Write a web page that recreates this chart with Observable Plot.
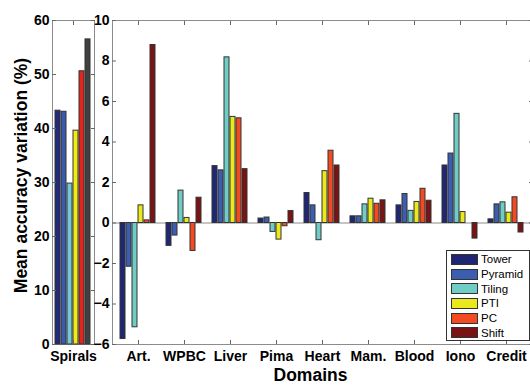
<!DOCTYPE html>
<html><head><meta charset="utf-8">
<script src="https://cdn.jsdelivr.net/npm/d3@7"></script>
<script src="https://cdn.jsdelivr.net/npm/@observablehq/plot@0.6"></script>
<style>
html,body{margin:0;padding:0;background:#fff;}
#chart{position:relative;width:530px;height:385px;overflow:hidden;font-family:"Liberation Sans",Arial,sans-serif;}
#chart svg{position:absolute;left:0;top:0;}
.legend{position:absolute;left:446px;top:250px;width:84px;height:91px;border:1px solid #333;background:#fff;box-sizing:border-box;padding-top:1px;padding-left:4px;}
.legend .row{height:14.7px;display:flex;align-items:center;font-size:11.5px;color:#000;white-space:nowrap;}
.legend .sw{width:27px;height:11px;box-sizing:border-box;border:1px solid #333;margin-right:3px;flex:none;}
</style>
</head><body>
<div id="chart"></div>
<script>
// ---- data ----
const series = ["Tower", "Pyramid", "Tiling", "PTI", "PC", "Shift"];
const domains = ["Art.", "WPBC", "Liver", "Pima", "Heart", "Mam.", "Blood", "Iono", "Credit"];
const spirals = [43.3, 43.1, 29.8, 39.6, 50.6, 56.5];
const tower   = [-5.73, -1.13, 2.81, 0.22, 1.48, 0.33, 0.87, 2.84, 0.18];
const pyramid = [-2.16, -0.62, 2.60, 0.27, 0.87, 0.33, 1.43, 3.43, 0.92];
const tiling  = [-5.15, 1.60, 8.18, -0.44, -0.85, 0.92, 0.60, 5.39, 1.02];
const pti     = [0.87, 0.25, 5.24, -0.82, 2.56, 1.20, 1.04, 0.54, 0.51];
const pc      = [0.13, -1.38, 5.17, -0.16, 3.57, 0.95, 1.69, 0.00, 1.27];
const shift   = [8.79, 1.25, 2.66, 0.59, 2.84, 1.12, 1.10, -0.77, -0.47];
const leftTicks = [0, 10, 20, 30, 40, 50, 60];
const rightTicks = [-6, -4, -2, 0, 2, 4, 6, 8, 10];
const yTitle = "Mean accuracy variation (%)";
const xTitle = "Domains";
const colors = ["#1f2775", "#3c5eb0", "#6fcdc6", "#e9e91b", "#f24b24", "#7a1414"];
const spiralsColors = ["#232a7a", "#3b5aab", "#75c8dc", "#f0ec14", "#e0251c", "#404040"];

const values = [tower, pyramid, tiling, pti, pc, shift];
const spiralsData = series.map((s, i) => ({domain: "Spirals", series: s, value: spirals[i]}));
const domainData = domains.flatMap((d, j) => series.map((s, i) => ({domain: d, series: s, value: values[i][j]})));

const FONT = '"Liberation Sans", Arial, sans-serif';
const style = {background: "transparent", fontFamily: FONT, fontSize: "14px", fontWeight: "bold", color: "#000", overflow: "visible", maxWidth: "none"};
const frameColor = "#8c8c8c", tickColor = "#666";

const W = 533, H = 385, MT = 20, MB = 41;

const left = Plot.plot({
  width: W, height: H, marginLeft: 52, marginRight: W - 94, marginTop: MT, marginBottom: MB,
  style,
  fx: {domain: ["Spirals"], padding: 0, axis: null},
  x: {domain: series, paddingInner: 0.12, paddingOuter: 0.56, axis: null},
  y: {domain: [0, 60], axis: null},
  color: {domain: series, range: spiralsColors},
  marks: [
    Plot.frame({stroke: frameColor}),
    Plot.barY(spiralsData, {fx: "domain", x: "series", y: "value", fill: "series", stroke: "#333", strokeWidth: 1}),
    Plot.axisY(leftTicks, {anchor: "left", tickSize: -4, tickPadding: 7, stroke: tickColor, label: null}),
    Plot.axisY(leftTicks, {anchor: "right", tickSize: -4, tickFormat: () => "", stroke: tickColor, label: null}),
    Plot.axisFx({anchor: "bottom", tickSize: -4, tickPadding: 11, stroke: tickColor, label: null}),
    Plot.axisFx({anchor: "top", tickSize: -4, tickFormat: () => "", stroke: tickColor, label: null}),
    Plot.text([yTitle], {frameAnchor: "left", textAnchor: "middle", lineAnchor: "middle", rotate: -90, dx: -31, dy: -7, fontSize: 17.5, fontWeight: "bold"})
  ]
});

const rightBase = Plot.plot({
  width: W, height: H, marginLeft: 112, marginRight: 1, marginTop: MT, marginBottom: MB,
  style,
  x: {type: "band", domain: domains, padding: 0, axis: null},
  y: {domain: [-6, 10], axis: null},
  marks: [
    Plot.frame({stroke: frameColor}),
    Plot.ruleY([0], {stroke: frameColor}),
    Plot.axisY(rightTicks, {anchor: "left", tickSize: -4, tickPadding: 7, stroke: tickColor, label: null}),
    Plot.axisY(rightTicks, {anchor: "right", tickSize: -4, tickFormat: () => "", stroke: tickColor, label: null}),
    Plot.axisX({anchor: "bottom", tickSize: -4, tickPadding: 11, stroke: tickColor, label: null}),
    Plot.axisX({anchor: "top", tickSize: -4, tickFormat: () => "", stroke: tickColor, label: null}),
    Plot.text([xTitle], {frameAnchor: "bottom", textAnchor: "middle", lineAnchor: "middle", dx: -12, dy: 31, fontSize: 17.5, fontWeight: "bold"})
  ]
});

const rightBars = Plot.plot({
  width: W, height: H, marginLeft: 112, marginRight: 1, marginTop: MT, marginBottom: MB,
  style,
  fx: {domain: domains, padding: 0, axis: null},
  x: {domain: series, paddingInner: 0.12, paddingOuter: 0.8, axis: null},
  y: {domain: [-6, 10], axis: null},
  color: {domain: series, range: colors},
  marks: [
    Plot.barY(domainData, {fx: "domain", x: "series", y: "value", fill: "series", stroke: "#333", strokeWidth: 1})
  ]
});

const chart = document.getElementById("chart");
chart.append(left, rightBase, rightBars);

// legend
const legend = document.createElement("div");
legend.className = "legend";
series.forEach((s, i) => {
  const row = document.createElement("div");
  row.className = "row";
  const sw = document.createElement("span");
  sw.className = "sw";
  sw.style.background = colors[i];
  const t = document.createElement("span");
  t.textContent = s;
  row.append(sw, t);
  legend.append(row);
});
chart.append(legend);
</script>
</body></html>
